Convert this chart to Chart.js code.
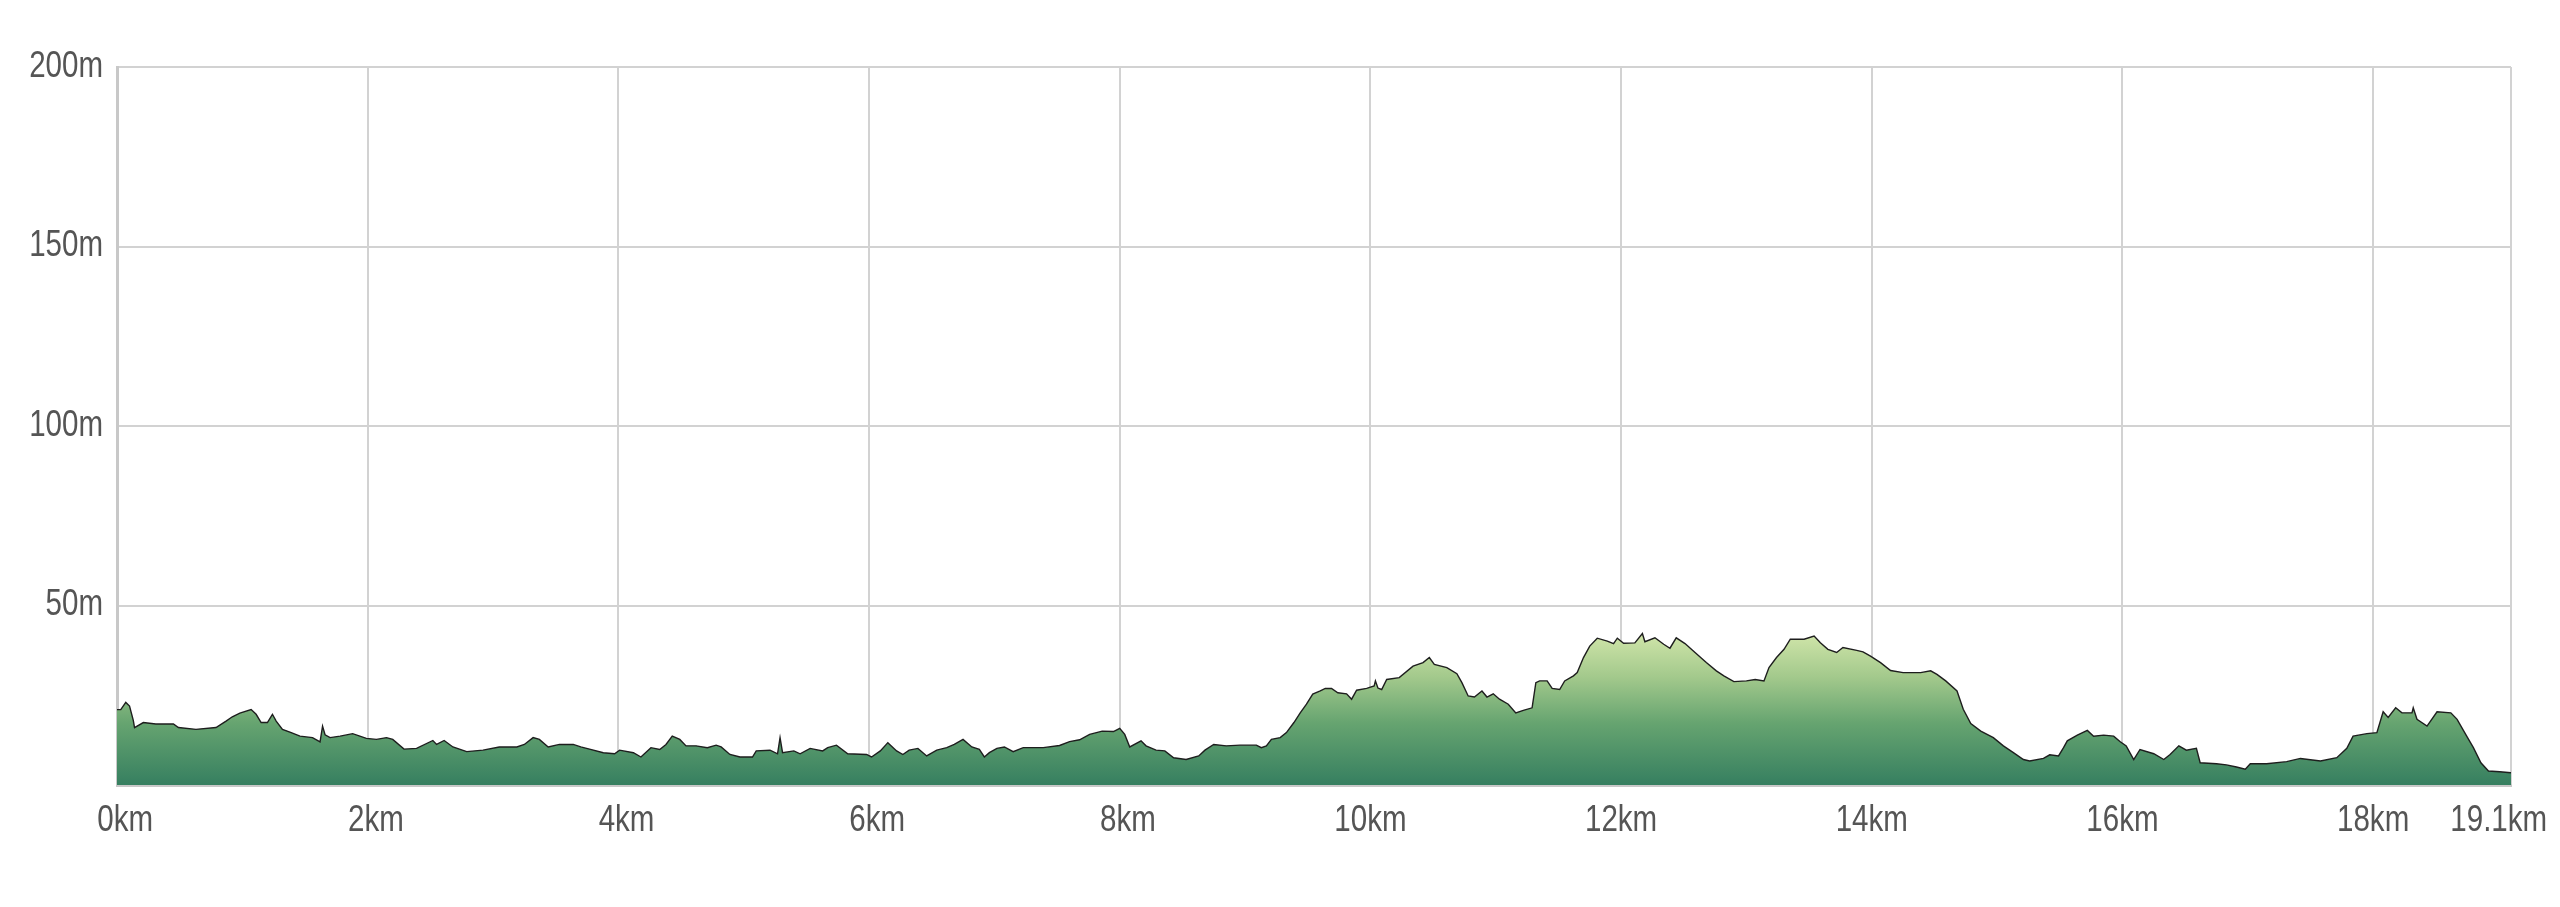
<!DOCTYPE html>
<html>
<head>
<meta charset="utf-8">
<script src="https://cdn.jsdelivr.net/npm/chart.js@4/dist/chart.umd.min.js"></script>
<style>
html,body{margin:0;padding:0;background:#ffffff;}
canvas{display:block;}
</style>
</head>
<body>
<canvas id="c" width="2560" height="907"></canvas>
<script>
// Distance along the route (km)
const distanceKm = [
  0.00,0.03,0.07,0.10,0.13,0.14,0.21,0.31,0.45,0.49,0.63,0.79,0.87,0.92,0.98,1.07,1.11,1.15,1.20,1.24,
  1.27,1.32,1.39,1.46,1.56,1.62,1.64,1.66,1.70,1.78,1.88,1.99,2.07,2.15,2.20,2.29,2.39,2.52,2.55,2.61,
  2.68,2.79,2.92,3.05,3.19,3.25,3.32,3.37,3.44,3.53,3.64,3.70,3.77,3.88,3.97,4.01,4.12,4.18,4.26,4.33,
  4.38,4.43,4.49,4.54,4.62,4.71,4.78,4.82,4.89,4.97,5.07,5.10,5.21,5.27,5.29,5.31,5.40,5.45,5.53,5.63,
  5.67,5.74,5.83,5.98,6.02,6.09,6.15,6.22,6.27,6.32,6.39,6.46,6.54,6.62,6.68,6.75,6.82,6.88,6.92,6.96,
  7.02,7.08,7.15,7.23,7.39,7.52,7.60,7.68,7.76,7.86,7.95,8.00,8.04,8.08,8.17,8.21,8.29,8.36,8.43,8.53,
  8.63,8.68,8.75,8.85,8.96,9.09,9.13,9.17,9.21,9.28,9.33,9.39,9.44,9.49,9.54,9.60,9.64,9.69,9.74,9.81,
  9.85,9.89,9.97,10.03,10.04,10.06,10.09,10.13,10.23,10.34,10.42,10.47,10.51,10.61,10.69,10.73,10.78,10.83,10.89,10.93,
  10.98,11.03,11.10,11.16,11.22,11.29,11.32,11.35,11.41,11.45,11.51,11.55,11.62,11.65,11.70,11.75,11.81,11.89,11.94,11.97,
  12.02,12.11,12.17,12.19,12.27,12.34,12.39,12.44,12.51,12.59,12.68,12.76,12.82,12.90,13.00,13.07,13.14,13.18,13.24,13.30,
  13.35,13.46,13.54,13.59,13.65,13.72,13.77,13.88,13.93,13.99,14.07,14.15,14.25,14.39,14.47,14.52,14.59,14.68,14.73,14.79,
  14.87,14.97,15.05,15.13,15.21,15.26,15.37,15.42,15.49,15.53,15.56,15.64,15.72,15.77,15.85,15.93,15.98,16.03,16.09,16.14,
  16.25,16.33,16.38,16.45,16.51,16.59,16.62,16.75,16.83,16.91,16.98,17.02,17.15,17.31,17.42,17.58,17.71,17.79,17.84,17.95,
  18.03,18.08,18.12,18.18,18.23,18.31,18.32,18.35,18.43,18.51,18.62,18.67,18.75,18.80,18.86,18.92,19.01,19.10
];
// Elevation (m)
const elevationM = [
  21.0,21.0,23.0,22.0,18.0,16.0,17.4,17.0,17.0,16.0,15.5,16.0,17.8,19.0,20.0,21.0,19.7,17.4,17.4,19.7,
  17.8,15.5,14.6,13.6,13.2,12.0,16.4,14.0,13.2,13.6,14.3,13.0,12.7,13.2,12.7,10.0,10.2,12.4,11.3,12.4,
  10.6,9.3,9.7,10.6,10.6,11.3,13.2,12.7,10.6,11.3,11.3,10.6,10.0,9.0,8.7,9.7,9.0,7.8,10.4,9.9,
  11.3,13.6,12.7,10.9,10.9,10.4,11.1,10.6,8.5,7.8,7.8,9.5,9.7,8.7,13.2,9.0,9.5,8.7,10.2,9.5,
  10.4,11.1,8.7,8.5,7.8,9.5,11.8,9.5,8.5,9.7,10.2,8.1,9.7,10.4,11.3,12.7,10.6,9.9,7.8,9.0,
  10.2,10.6,9.3,10.4,10.4,11.0,12.1,12.6,14.1,15.0,14.9,15.8,14.1,10.6,12.3,10.9,9.7,9.5,7.6,7.1,
  8.1,9.7,11.3,10.9,11.1,11.1,10.4,10.9,12.7,13.2,14.6,17.4,20.1,22.5,25.3,26.2,26.9,26.9,25.7,25.4,
  23.9,26.4,26.9,27.6,29.0,27.0,26.6,29.4,29.9,33.1,34.1,35.5,33.6,32.7,31.0,28.5,24.8,24.5,26.2,24.5,
  25.4,23.9,22.5,20.1,20.8,21.5,28.5,29.0,29.0,26.9,26.6,29.0,30.4,31.3,35.5,38.7,40.9,40.1,39.4,40.9,
  39.5,39.6,42.2,39.9,41.0,39.2,38.1,41.0,39.4,36.9,34.1,31.8,30.4,28.8,29.0,29.4,29.0,32.7,35.5,37.8,
  40.6,40.6,41.5,39.6,37.8,36.9,38.3,37.5,37.1,35.9,34.1,31.9,31.3,31.3,31.8,30.8,29.0,26.2,21.1,17.1,
  15.0,13.2,10.9,9.0,7.1,6.7,7.4,8.4,8.1,10.4,12.3,13.9,15.2,13.6,13.9,13.6,12.1,10.9,7.1,9.9,
  8.7,7.1,8.5,10.9,9.7,10.2,6.2,5.9,5.6,5.0,4.4,5.9,5.9,6.5,7.4,6.7,7.6,10.2,13.6,14.3,
  14.6,20.4,18.8,21.5,20.1,20.1,21.5,18.3,16.4,20.4,20.1,18.3,13.4,10.4,6.2,3.9,3.7,3.4
];
// Tick values
const xTickValues = [0, 2, 4, 6, 8, 10, 12, 14, 16, 18, 19.1];
const yTickValues = [0, 50, 100, 150, 200];
const xUnit = 'km';
const yUnit = 'm';

const FONT = "'Liberation Sans', Arial, sans-serif";
const tickFont = { family: FONT, size: 36 };
const TEXT_SQUEEZE = 0.82; // narrow (condensed) look of the axis labels

const canvas = document.getElementById('c');
const ctx = canvas.getContext('2d');
const baseFillText = ctx.fillText;
ctx.fillText = function (text, x, y, maxWidth) {
  this.save();
  this.translate(x, y);
  this.scale(TEXT_SQUEEZE, 1);
  if (maxWidth === undefined || maxWidth === null) baseFillText.call(this, text, 0, 0);
  else baseFillText.call(this, text, 0, 0, maxWidth / TEXT_SQUEEZE);
  this.restore();
};

const points = distanceKm.map((d, i) => ({ x: d, y: elevationM[i] }));

function fillGradient(context) {
  const chart = context.chart;
  const area = chart.chartArea;
  if (!area) return '#5e9e6e';
  const ys = chart.scales.y;
  const g = chart.ctx.createLinearGradient(0, ys.getPixelForValue(43), 0, ys.getPixelForValue(0));
  g.addColorStop(0, '#d3e7ab');
  g.addColorStop(0.3, '#a3c98c');
  g.addColorStop(0.6, '#66a470');
  g.addColorStop(1, '#367f60');
  return g;
}

function xLabel(v) {
  const s = v + xUnit;
  if (v === 19.1) return s + '   ';
  if (v < 10) return '  ' + s;
  return s;
}

new Chart(ctx, {
  type: 'line',
  data: {
    datasets: [{
      data: points,
      borderColor: '#1e1e1e',
      borderWidth: 1.4,
      pointRadius: 0,
      tension: 0,
      fill: 'origin',
      backgroundColor: fillGradient
    }]
  },
  options: {
    responsive: false,
    animation: false,
    events: [],
    layout: { padding: { left: 0, right: 49, top: 67, bottom: 0 } },
    plugins: { legend: { display: false }, tooltip: { enabled: false } },
    scales: {
      x: {
        type: 'linear',
        min: 0,
        max: 19.1,
        afterBuildTicks: (s) => { s.ticks = xTickValues.map(v => ({ value: v })); },
        afterFit: (s) => { s.paddingLeft = 0; s.paddingRight = 0; s.height = 122; },
        grid: { color: '#d2d2d2', lineWidth: 2, drawTicks: false },
        border: { color: '#c8c8c8', width: 3 },
        ticks: {
          padding: 14,
          color: '#555555',
          font: tickFont,
          maxRotation: 0,
          autoSkip: false,
          callback: xLabel
        }
      },
      y: {
        min: 0,
        max: 200,
        afterBuildTicks: (s) => { s.ticks = yTickValues.map(v => ({ value: v })); },
        afterFit: (s) => { s.width = 117; s.paddingTop = 0; s.paddingBottom = 0; },
        grid: { color: '#d2d2d2', lineWidth: 2, drawTicks: false },
        border: { color: '#c8c8c8', width: 3 },
        ticks: {
          padding: 14,
          color: '#555555',
          font: tickFont,
          callback: (v) => (v === 0 ? '' : v + yUnit)
        }
      }
    }
  }
});
</script>
</body>
</html>
